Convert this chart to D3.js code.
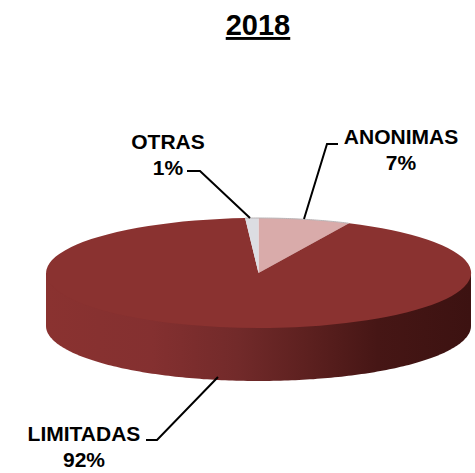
<!DOCTYPE html>
<html><head><meta charset="utf-8">
<script src="https://cdn.jsdelivr.net/npm/d3@7"></script>
<style>html,body{margin:0;padding:0;background:#fff}svg{display:block}text{font-family:"Liberation Sans",Arial,sans-serif;font-weight:700;fill:#000}</style>
</head><body><script>
const title = "2018";
const categories = ["ANONIMAS","LIMITADAS","OTRAS"];
const values = [7,92,1];
const percentLabels = ["7%","92%","1%"];
const sliceColors = ["#d9abaa","#8a3230","#dcdde2"];

const W=475,H=473, cx=258.5, cy=273, rx=212.5, ry=55, depth=53;
const svg=d3.select("body").append("svg").attr("width",W).attr("height",H);
const defs=svg.append("defs");
const sideGrad=defs.append("linearGradient").attr("id","side").attr("gradientUnits","userSpaceOnUse")
  .attr("x1",cx-rx).attr("x2",cx+rx).attr("y1",0).attr("y2",0);
[[0,"#8a3230"],[.25,"#843030"],[.45,"#722a2a"],[.62,"#5c201f"],[.78,"#461615"],[1,"#3c1211"]]
  .forEach(([o,c])=>sideGrad.append("stop").attr("offset",o).attr("stop-color",c));

const pie=d3.pie().sort(null).value(d=>d)(values);
const sx=d3.scaleLinear().domain([-1,1]).range([cx-rx,cx+rx]);
const sy=d3.scaleLinear().domain([-1,1]).range([cy-ry,cy+ry]);

// visible wall: front half of the ellipse extruded downward (tucked under the top face)
const wallAngles=d3.range(0,181).map(d=>d*Math.PI/180);
svg.append("path").attr("fill","url(#side)")
  .attr("d",d3.area().x(a=>sx(Math.cos(a))).y0(cy).y1(a=>sy(Math.sin(a))+depth)(wallAngles));

// top face
const arc=d3.arc().innerRadius(0).outerRadius(1);
const faces=svg.append("g").attr("transform",`translate(${cx},${cy}) scale(${rx},${ry})`);
faces.selectAll("path").data(pie).join("path")
  .attr("d",arc).attr("fill",(d,i)=>sliceColors[i]);

// grey rim along the pale back edge
const rimAngles=d3.range(pie[2].startAngle,pie[0].endAngle+2*Math.PI,0.01);
svg.append("path").attr("fill","none").attr("stroke","#b8b4b6").attr("stroke-width",1)
  .attr("d",d3.line().x(a=>sx(Math.sin(a))).y(a=>sy(-Math.cos(a)))(rimAngles));

// title
svg.append("text").attr("x",258).attr("y",35).attr("text-anchor","middle")
  .attr("font-size",29).attr("text-decoration","underline").text(title);

// labels
const labelAnchors=[[401,144,170],[84,441,467],[168,149,175]];
categories.forEach((c,i)=>{
  const [x,y1,y2]=labelAnchors[i];
  svg.append("text").attr("x",x).attr("y",y1).attr("text-anchor","middle").attr("font-size",21).text(c);
  svg.append("text").attr("x",x).attr("y",y2).attr("text-anchor","middle").attr("font-size",21).text(percentLabels[i]);
});

// leaders
const leaders=[[[338,144],[327,144],[304,219]],[[146,440],[157,440],[218,377]],[[187,171],[200,171],[250,218]]];
svg.selectAll("path.leader").data(leaders).join("path").attr("class","leader")
  .attr("fill","none").attr("stroke","#000").attr("stroke-width",2)
  .attr("d",d3.line());
</script></body></html>
